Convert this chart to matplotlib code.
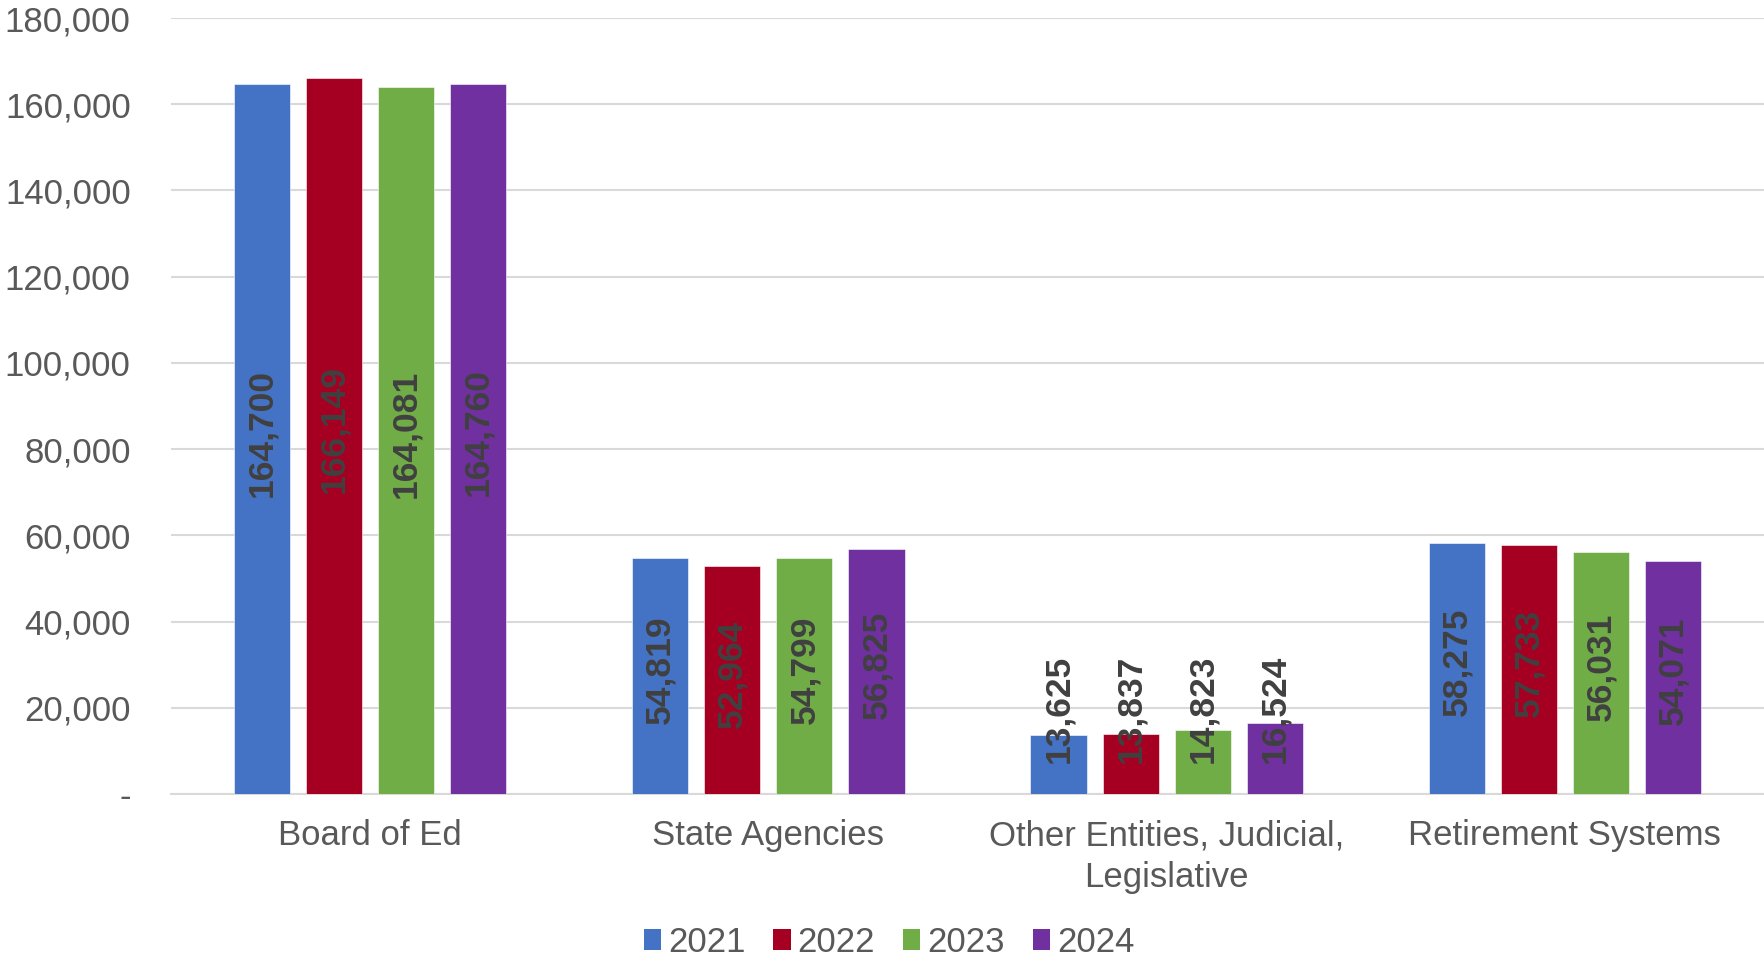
import matplotlib
matplotlib.use("Agg")
import matplotlib.pyplot as plt
from matplotlib.ticker import FuncFormatter
from matplotlib.patches import Patch
import numpy as np

plt.rcParams['font.family'] = ['Liberation Sans', 'DejaVu Sans']

categories = ["Board of Ed", "State Agencies", "Other Entities, Judicial,\nLegislative", "Retirement Systems"]
years = ["2021", "2022", "2023", "2024"]
values = {
    "2021": [164700, 54819, 13625, 58275],
    "2022": [166149, 52964, 13837, 57733],
    "2023": [164081, 54799, 14823, 56031],
    "2024": [164760, 56825, 16524, 54071],
}
colors = ["#4472C4", "#A50021", "#70AD47", "#7030A0"]

W, H = 1764, 961
fig = plt.figure(figsize=(W / 100, H / 100), dpi=100)
ax = fig.add_axes([171 / W, 1 - 794 / H, 1 - 171 / W, (794 - 18) / H])

x = np.arange(len(categories))
step = 0.181
width = 0.141
offsets = (np.arange(len(years)) - 1.5) * step

for i, (yr, col) in enumerate(zip(years, colors)):
    vals = values[yr]
    ax.bar(x + offsets[i], vals, width=width, color=col, zorder=3,
           edgecolor="white", linewidth=0.4)
    for xi, v in zip(x + offsets[i], vals):
        ax.text(xi, max(v / 2 + 1500, 19800), f"{v:,}", rotation=90, ha="center", va="center",
                fontsize=25.5, fontweight="bold", color="#404040", zorder=4)

ax.set_xlim(-0.5, 3.5)
ax.set_ylim(0, 180000)
ax.set_yticks(np.arange(0, 180001, 20000))
ax.yaxis.set_major_formatter(FuncFormatter(lambda v, p: "-" if v == 0 else f"{int(v):,}"))
ax.grid(axis="y", color="#D9D9D9", linewidth=1.5, zorder=0)
for s in ["top", "right", "left"]:
    ax.spines[s].set_visible(False)
ax.spines["bottom"].set_color("#D9D9D9")
ax.spines["bottom"].set_linewidth(1.5)
ax.tick_params(axis="y", length=0, pad=29, labelsize=25, labelcolor="#595959")
ax.tick_params(axis="x", length=0, pad=18, labelsize=25, labelcolor="#595959")
ax.set_xticks(x)
ax.set_xticklabels(categories, linespacing=1.35)

handles = [Patch(facecolor=c, edgecolor="none") for c in colors]
fig.legend(handles, years, loc="center", bbox_to_anchor=(889 / W, 1 - 942 / H), ncol=4,
           frameon=False, fontsize=25, labelcolor="#595959", handlelength=0.5,
           handleheight=0.55, handletextpad=0.2, columnspacing=0.8)

fig.savefig("out.png", dpi=100)
